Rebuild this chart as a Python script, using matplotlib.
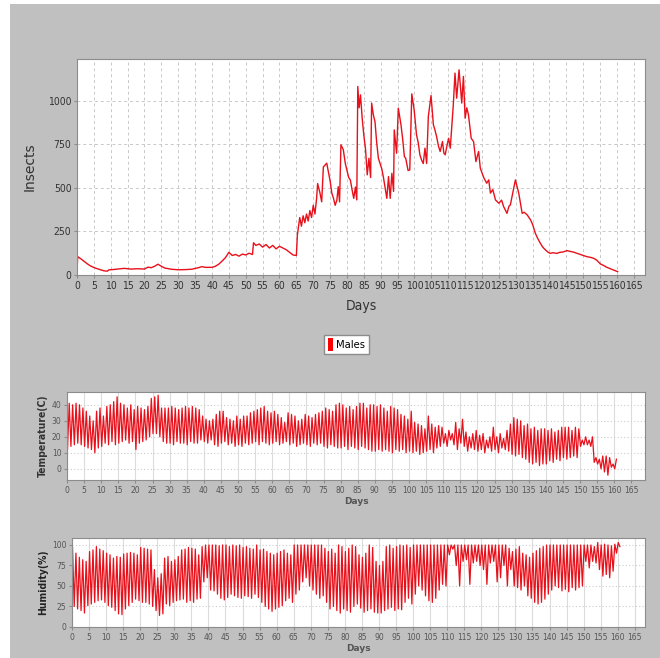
import os
import matplotlib
matplotlib.use("Agg")
import matplotlib.pyplot as plt
from matplotlib import font_manager as fm
from matplotlib.patches import Rectangle
import numpy as np

# males (insects) - knots
male_days = [0, 0.2, 1, 2, 3, 4, 5, 6, 7, 8, 9, 9.5, 10, 12, 14, 16, 18, 20, 21, 22, 23, 24, 25, 26, 28, 30,
             32, 34, 36, 37, 38, 40, 41, 42, 43, 44, 45, 46, 47, 48, 49, 50, 51, 52, 52.3, 53, 54, 55, 56, 57,
             58, 59, 60, 61, 62, 63, 64, 65, 65.3, 66, 66.5, 67, 67.5, 68, 68.5, 69, 69.5, 70, 70.5, 71, 71.3,
             72, 72.5, 73, 74, 75, 75.5, 76, 76.5, 77, 77.4, 77.8, 78.2, 78.9, 79.5, 80, 80.5, 81, 81.5, 82,
             82.5, 82.9, 83.2, 83.6, 84, 84.5, 85, 85.5, 86, 86.5, 87, 87.3, 87.8, 88.3, 88.8, 89.3, 89.8,
             90.3, 90.8, 91.3, 91.8, 92.3, 92.8, 93.3, 93.8, 94, 94.7, 95.2, 96, 96.5, 97, 97.4, 98.1, 98.6,
             99.2, 99.9, 100.6, 101.1, 101.6, 102.1, 102.6, 103.1, 103.6, 104.1, 104.9, 105.6, 106.1, 106.6,
             107.1, 107.6, 108.3, 108.7, 109.1, 109.6, 110.1, 110.6, 111.5, 112, 112.5, 113.2, 114, 114.5,
             115, 115.5, 116, 116.8, 117.5, 118.2, 119, 119.5, 120.5, 121.4, 122, 122.5, 123.2, 124, 125,
             125.8, 126.4, 127.4, 128, 128.4, 129.2, 129.9, 130.5, 130.9, 131.4, 131.9, 132.5, 133.4, 134.4,
             135, 135.8, 136.5, 137.3, 138, 138.8, 139.5, 140.2, 141, 142.2, 143, 144, 145.2, 146, 147,
             148.2, 149, 150, 151.1, 152, 153.1, 154, 155.1, 156, 157, 158, 159, 160.2]
males = [20, 105, 95, 80, 65, 52, 43, 36, 30, 24, 22, 30, 30, 34, 38, 34, 36, 34, 45, 42, 50, 62, 50, 40, 33, 30,
         31, 33, 42, 48, 44, 44, 50, 62, 80, 100, 130, 112, 118, 108, 120, 115, 125, 118, 185, 170, 178, 160,
         175, 155, 170, 150, 165, 155, 145, 130, 115, 112, 230, 330, 280, 340, 300, 350, 310, 370, 330, 400,
         350, 440, 525, 470, 420, 620, 642, 540, 470, 440, 400, 430, 507, 420, 747, 720, 640, 600, 560, 545,
         490, 440, 505, 431, 1082, 960, 1034, 900, 800, 720, 575, 670, 560, 987, 920, 880, 760, 670, 640,
         610, 560, 500, 440, 565, 440, 584, 480, 833, 699, 958, 862, 780, 680, 670, 600, 603, 1040, 948,
         805, 760, 690, 660, 640, 728, 640, 910, 1030, 862, 830, 790, 740, 709, 766, 700, 690, 740, 785,
         728, 977, 1159, 1015, 1178, 987, 1140, 900, 960, 919, 785, 766, 651, 709, 613, 560, 527, 546, 470,
         490, 431, 412, 430, 393, 354, 395, 402, 479, 546, 500, 469, 410, 354, 360, 345, 316, 290, 240, 210,
         182, 160, 144, 132, 124, 128, 124, 130, 132, 140, 136, 132, 124, 118, 112, 105, 102, 96, 85, 63,
         55, 44, 36, 28, 19]

# temperature (C): daily max / min, days 0..160
tmax = [41, 40, 41, 40, 38, 36, 33, 30, 36, 38,
        33, 39, 40, 42, 45, 41, 40, 38, 40, 37,
        39, 38, 37, 39, 44, 45, 46, 38, 38, 38,
        39, 38, 37, 38, 39, 38, 39, 38, 37, 33,
        31, 30, 31, 34, 36, 36, 32, 31, 30, 33,
        31, 33, 33, 35, 36, 37, 38, 39, 36, 35,
        36, 34, 32, 29, 35, 34, 33, 30, 31, 34,
        33, 32, 34, 35, 36, 38, 37, 36, 40, 41,
        40, 38, 39, 37, 39, 41, 41, 38, 40, 40,
        39, 40, 38, 36, 39, 38, 37, 34, 33, 31,
        36, 29, 28, 27, 25, 33, 28, 26, 27, 26,
        22, 24, 22, 29, 25, 31, 23, 20, 22, 24,
        21, 22, 18, 20, 26, 20, 22, 19, 24, 28,
        32, 31, 30, 27, 28, 25, 26, 24, 25, 25,
        24, 25, 23, 24, 26, 26, 26, 24, 26, 25,
        18, 20, 18, 20, 7, 6, 8, 8, 7, 3,
        6]
tmin = [12, 14, 15, 16, 15, 14, 13, 12, 10, 13,
        14, 16, 15, 17, 15, 16, 17, 18, 16, 17,
        12, 16, 17, 18, 20, 22, 22, 20, 17, 16,
        16, 15, 17, 16, 16, 15, 17, 16, 16, 18,
        17, 16, 18, 15, 14, 16, 17, 15, 16, 14,
        15, 14, 16, 15, 16, 17, 15, 17, 16, 15,
        16, 17, 15, 16, 17, 15, 16, 14, 15, 16,
        15, 14, 16, 15, 16, 14, 13, 15, 14, 13,
        13, 14, 12, 14, 13, 12, 14, 13, 12, 11,
        11, 12, 11, 12, 11, 10, 12, 11, 12, 10,
        11, 10, 11, 9, 10, 11, 12, 10, 13, 14,
        16, 14, 18, 15, 12, 16, 14, 11, 13, 12,
        11, 12, 10, 13, 11, 12, 10, 13, 12, 11,
        9, 8, 9, 7, 6, 4, 3, 4, 2, 3,
        3, 5, 4, 6, 5, 7, 6, 7, 8, 7,
        14, 15, 15, 14, 4, 3, 0, -2, -4, 1,
        0]

# humidity (%): daily max / min, days 0..160
hmax = [97, 90, 85, 82, 80, 92, 94, 98, 95, 93,
        90, 88, 84, 86, 85, 89, 90, 91, 90, 88,
        97, 96, 95, 94, 70, 60, 65, 84, 86, 80,
        82, 86, 94, 95, 97, 96, 95, 88, 98, 100,
        100, 100, 100, 99, 100, 100, 98, 100, 99, 100,
        97, 98, 96, 95, 100, 94, 95, 92, 90, 88,
        90, 92, 94, 90, 88, 100, 100, 100, 100, 100,
        100, 100, 100, 100, 96, 92, 95, 90, 100, 98,
        92, 96, 100, 98, 88, 85, 90, 100, 97, 80,
        75, 80, 98, 100, 96, 98, 100, 99, 100, 97,
        100, 100, 100, 100, 100, 100, 100, 100, 100, 100,
        100, 100, 100, 100, 100, 100, 100, 100, 100, 100,
        100, 100, 100, 100, 100, 100, 100, 100, 96, 92,
        95, 98, 90, 88, 85, 90, 93, 96, 98, 100,
        100, 100, 100, 100, 100, 100, 100, 100, 100, 100,
        100, 100, 100, 98, 103, 100, 101, 100, 99, 101,
        103]
hmin = [25, 22, 20, 17, 26, 28, 30, 32, 33, 30,
        26, 24, 20, 16, 15, 22, 26, 30, 34, 32,
        30, 30, 28, 25, 20, 14, 16, 28, 26, 30,
        32, 33, 34, 30, 32, 30, 34, 35, 55, 60,
        45, 44, 40, 35, 33, 36, 40, 38, 36, 35,
        38, 37, 35, 40, 36, 30, 25, 22, 19, 22,
        24, 26, 32, 35, 30, 40, 45, 55, 60, 50,
        45, 40, 35, 38, 30, 22, 25, 20, 17, 22,
        20, 18, 25, 28, 23, 18, 20, 22, 18, 17,
        17, 20, 22, 24, 20, 22, 21, 30, 35, 28,
        40, 50, 45, 38, 32, 30, 35, 45, 52, 50,
        88, 95, 75, 50, 80, 82, 52, 78, 80, 75,
        70, 52, 78, 80, 55, 60, 75, 50, 70, 50,
        48, 45, 50, 38, 35, 30, 28, 30, 34, 40,
        45, 50, 48, 44, 46, 43, 48, 45, 48, 50,
        80, 72, 80, 78, 70, 62, 64, 60, 68, 90,
        98]

day_ticks = list(range(0, 170, 5))
RED = '#e8101a'


def find_narrow(bold):
    # look for a narrow / condensed sans among installed font files
    files = [f.fname for f in fm.fontManager.ttflist]
    prefs = ['liberationsansnarrow-', 'dejavusanscondensed', 'robotocondensed-', 'opensans_condensed',
             'opensans-condensed', 'notosans-condensed', 'arialn']
    for p in prefs:
        for f in files:
            b = os.path.basename(f).lower()
            if p in b and ('bold' in b) == bold and 'italic' not in b and 'oblique' not in b \
                    and 'light' not in b and 'semi' not in b and 'extra' not in b and 'medium' not in b:
                return f
    return None


nar_file = find_narrow(False)
narb_file = find_narrow(True)
if nar_file:
    NAR = fm.FontProperties(fname=nar_file)
    nar_tick = 7.5
else:
    NAR = fm.FontProperties(family='Liberation Sans')
    nar_tick = 6.6
if narb_file:
    NARB = fm.FontProperties(fname=narb_file)
else:
    NARB = fm.FontProperties(family='Liberation Sans', weight='bold')


def fp(base, size, weight=None):
    p = base.copy()
    p.set_size(size)
    if weight:
        p.set_weight(weight)
    return p


# daily series: two readings per day
days = np.arange(len(tmax))
t_time = np.column_stack([days + 0.15, days + 0.65]).ravel()
t_vals = np.column_stack([tmin, tmax]).ravel()
h_vals = np.column_stack([hmax, hmin]).ravel()

fig = plt.figure(figsize=(6.6, 6.58), dpi=100, facecolor='white')
fig.patches.append(Rectangle((10 / 660, 0), 1, 1 - 4 / 658, transform=fig.transFigure,
                             facecolor='#c0c0c0', edgecolor='none', zorder=-10))


def style(ax, props, col):
    ax.set_facecolor('white')
    for s in ax.spines.values():
        s.set_color('#8c8c8c')
    ax.set_xticks(day_ticks)
    ax.tick_params(length=2, color='#8c8c8c', labelcolor=col, pad=2)
    for lab in ax.get_xticklabels() + ax.get_yticklabels():
        lab.set_fontproperties(props)


# ---- insects
ax1 = fig.add_axes([77 / 660, 1 - 275 / 658, 568 / 660, 216 / 658])
ax1.plot(male_days, males, color=RED, lw=1)
ax1.set_xlim(0, 168.3)
ax1.set_ylim(0, 1240)
ax1.set_yticks([0, 250, 500, 750, 1000])
style(ax1, fp(NAR, nar_tick), '#333333')
ax1.grid(True, color='#c8c8c8', ls=(0, (3, 3)), lw=0.7)
ax1.set_xlabel('Days', fontproperties=fp(NAR, 10), color='#333333', labelpad=6)
ax1.set_ylabel('Insects', fontsize=10, color='#333333', labelpad=8)

leg_h = Rectangle((0, 0), 1, 1, facecolor='#ff0000', edgecolor='none')
fig.legend([leg_h], ['Males'], loc='center', bbox_to_anchor=(346.5 / 660, 1 - 344.5 / 658),
           prop=fp(NAR, 8), handlelength=0.45, handleheight=1.3,
           handletextpad=0.3, borderpad=0.35, fancybox=False, edgecolor='#8c8c8c',
           framealpha=1)

small = fm.FontProperties(family='DejaVu Sans', size=5.5)

# ---- temperature
ax2 = fig.add_axes([67 / 660, 1 - 480 / 658, 578 / 660, 88 / 658])
ax2.plot(t_time, t_vals, color=RED, lw=0.9)
ax2.set_xlim(0, 169)
ax2.set_ylim(-7, 48)
ax2.set_yticks([0, 10, 20, 30, 40])
style(ax2, small, '#555555')
ax2.grid(True, axis='x', color='#dcdcdc', lw=0.8)
ax2.grid(True, axis='y', color='#cccccc', ls=(0, (1, 2)), lw=0.8)
ax2.set_xlabel('Days', fontsize=6.5, fontweight='bold', color='#555555', labelpad=2)
ax2.set_ylabel('Temperature(C)', fontproperties=fp(NARB, 7.5 if narb_file else 6.5),
               color='#333333', labelpad=3)

# ---- humidity
ax3 = fig.add_axes([72 / 660, 1 - 627 / 658, 573 / 660, 89 / 658])
ax3.plot(t_time, h_vals, color=RED, lw=0.9)
ax3.set_xlim(0, 168)
ax3.set_ylim(0, 108.5)
ax3.set_yticks([0, 25, 50, 75, 100])
style(ax3, small, '#555555')
ax3.grid(True, axis='x', color='#dcdcdc', lw=0.8)
ax3.grid(True, axis='y', color='#cccccc', ls=(0, (1, 2)), lw=0.8)
ax3.set_xlabel('Days', fontsize=6.5, fontweight='bold', color='#555555', labelpad=2)
ax3.set_ylabel('Humidity(%)', fontproperties=fp(NARB, 7.5 if narb_file else 6.5),
               color='#222222', labelpad=3)

fig.savefig('out.png', dpi=100, facecolor=fig.get_facecolor())
